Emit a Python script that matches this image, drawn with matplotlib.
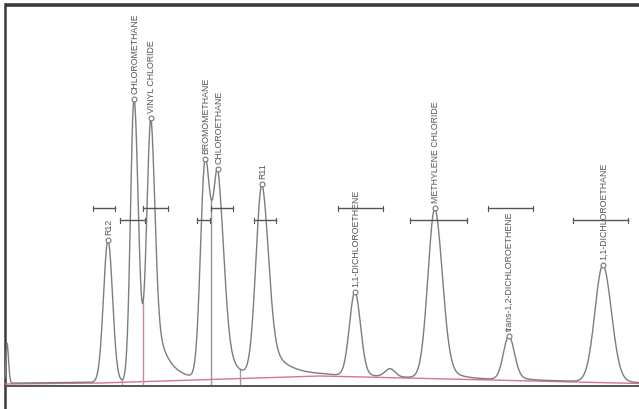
import numpy as np
import matplotlib
matplotlib.use("Agg")
import matplotlib.pyplot as plt

# peak table: compound, retention (px-like time units), height, left/right widths, tail
names = ["", "R12", "CHLOROMETHANE", "VINYL CHLORIDE", "BROMOMETHANE", "CHLOROETHANE",
         "R11", "1,1-DICHLOROETHENE", "", "METHYLENE CHLORIDE",
         "trans-1,2-DICHLOROETHENE", "1,1-DICHLOROETHANE"]
rt = [7, 108, 134, 151, 205, 218, 262, 355, 390, 435, 509, 603]
height = [40, 142, 282, 263, 212, 202, 192, 84, 8, 170, 44, 117]
sig_l = [1.0, 4.5, 3.5, 4.3, 4.5, 5.0, 6.0, 5.5, 5.0, 7.0, 5.5, 8.0]
sig_r = [1.5, 4.5, 4.3, 4.0, 5.0, 6.0, 6.5, 5.5, 5.0, 7.5, 5.5, 8.5]
tail_f = [0, 0, 0, 0.35, 0, 0.3, 0.25, 0.05, 0, 0.15, 0.15, 0.05]
tail_tau = [1, 1, 1, 12, 1, 11, 18, 10, 1, 12, 10, 10]

# drifting baseline (integration line)
base_x = [5, 100, 320, 639]
base_y = [0, 1, 8, 0.5]

# peak width bars: left, right, level
wbar_l = [93, 120, 143, 197, 211, 254, 338, 410, 488, 573]
wbar_r = [115, 145, 168, 210, 233, 276, 383, 467, 533, 628]
wbar_lev = [176, 164, 176, 164, 176, 164, 176, 164, 176, 164]

# drop lines at valleys
drop_x = [122, 143, 211, 240]
drop_c = ["#d9879a", "#d08898", "#9c8fa6", "#9a9a9a"]

t = np.linspace(5, 639, 3000)
bl = np.interp(t, base_x, base_y)


def peak(x, x0, h, sl, sr, f, tau):
    dx = x - x0
    left = h * np.exp(-dx ** 2 / (2 * sl ** 2))
    right = h * ((1 - f) * np.exp(-dx ** 2 / (2 * sr ** 2)) + f * np.exp(-np.clip(dx, 0, None) / tau))
    return np.where(dx < 0, left, right)


sig = bl + 0.8
for i in range(len(rt)):
    sig = sig + peak(t, rt[i], height[i], sig_l[i], sig_r[i], tail_f[i], tail_tau[i])

fig = plt.figure(figsize=(6.39, 4.10), dpi=100)
ax = fig.add_axes([0, 0, 1, 1])
ax.set_xlim(0, 639)
ax.set_ylim(-25, 385)
ax.axis("off")

# frame
ax.plot([4.5, 639], [379.5, 379.5], color="#3a3a3a", lw=2.6, solid_capstyle="butt")
ax.plot([4.5, 4.5], [-25, 380], color="#3a3a3a", lw=1.8)
ax.plot([5, 639], [-1.5, -1.5], color="#555555", lw=1.4)

# integration baseline and drop lines
ax.plot(base_x, base_y, color="#d9738a", lw=1.0)
for x, c in zip(drop_x, drop_c):
    ax.plot([x, x], [0, np.interp(x, t, sig)], color=c, lw=1.0)

# trace
ax.plot(t, sig, color="#7d7d7d", lw=1.0)

# width bars
for l, r, lev in zip(wbar_l, wbar_r, wbar_lev):
    ax.plot([l, r], [lev, lev], color="#555555", lw=1.0)
    ax.plot([l, l], [lev - 2.5, lev + 2.5], color="#555555", lw=0.8)
    ax.plot([r, r], [lev - 2.5, lev + 2.5], color="#555555", lw=0.8)

# apex markers and labels
for i, name in enumerate(names):
    if not name:
        continue
    top = np.interp(rt[i], t, sig)
    ax.plot(rt[i], top, marker="o", ms=3.5, mfc="white", mec="#777777", mew=0.8)
    ax.text(rt[i] + 0.5, top + 6, name, rotation=90, ha="center", va="bottom",
            fontsize=6.3, family="Liberation Sans", color="#555555")

fig.savefig("out.png", dpi=100)
